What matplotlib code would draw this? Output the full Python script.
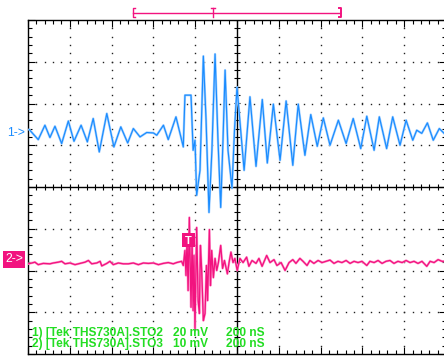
import matplotlib
matplotlib.use("Agg")
import matplotlib.pyplot as plt
import numpy as np

# scope settings
ns_per_div = 200
ch1_mv_per_div = 20
ch2_mv_per_div = 10
ch1_offset = 1.28    # divisions above centre
ch2_offset = -1.72

# channel 1 (ns, mV)
ch1_t = [6, 49, 81, 105, 129, 161, 193, 220, 254, 284, 312, 341, 377, 411, 444, 477,
         504, 536, 568, 600, 616, 648, 671, 708, 743,
         751, 780, 790, 799, 807, 823, 839, 852, 866, 880, 895, 909, 922, 933, 943,
         957, 976, 988, 1000,
         1034, 1062, 1091, 1121, 1145, 1174, 1206, 1235, 1267, 1293, 1325, 1353, 1384,
         1413, 1445, 1485, 1522, 1556, 1592, 1621, 1656, 1681, 1716, 1745, 1780, 1809,
         1841, 1860, 1884, 1911, 1939, 1968, 2000]
ch1_mv = [1.9, -2.9, 4.0, -1.9, 3.5, -4.8, 6.0, -3.7, 4.0, -4.0, 7.2, -8.8, 9.6, -6.4, 3.2, -4.5,
          2.4, -1.6, 0.5, 0.3, -0.8, 4.0, -2.9, 8.0, -6.4,
          18.4, 18.4, -8.0, -3.2, -29.6, -17.6, 37.1, 6.4, -37.8, -8.0, 38.1, -3.2, -35.4, -3.2, 30.4,
          -8.0, -26.2, 1.6, 22.2,
          -17.6, 17.6, -15.7, 16.3, -14.1, 14.1, -12.8, 15.6, -15.2, 14.1, -10.4, 9.1, -6.1,
          7.5, -5.6, 6.4, -4.8, 7.2, -7.2, 8.3, -8.0, 8.0, -7.2, 8.0, -5.6, 6.4,
          -3.2, 1.6, 0.1, 5.1, -3.2, 2.4, -0.8]

# channel 2 (ns, mV)
ch2_t = [1, 19, 33, 49, 73, 105, 121, 145, 161, 177, 201, 225, 249, 273, 289, 305, 329, 345,
         353, 377, 392, 408, 432, 456, 480, 504, 528, 552, 576, 600, 624, 647, 671, 695, 711,
         735, 743,
         751, 756, 761, 766, 772, 780, 785, 790, 794, 799, 807, 814, 820, 825, 831, 839, 847,
         854, 859, 868, 873, 879, 887, 895, 903, 911, 922, 931, 940, 954, 962, 971, 981, 990,
         1001,
         1014, 1029, 1046, 1057, 1072, 1091, 1105, 1120, 1142, 1158, 1177, 1191, 1211, 1230,
         1249, 1267, 1282, 1301, 1316, 1335, 1349, 1368, 1388, 1407, 1426, 1445, 1464, 1483,
         1502, 1522, 1541, 1560, 1579, 1598, 1621, 1636, 1656, 1675, 1694, 1713, 1732, 1751,
         1770, 1790, 1809, 1828, 1847, 1866, 1885, 1908, 1924, 1943, 1962, 1981, 2000]
ch2_mv = [-1.2, -1.0, -0.8, -1.4, -1.1, -1.2, -1.0, -0.8, -0.6, -1.2, -1.0, -1.4, -1.1, -0.8,
          -0.4, -1.2, -1.0, -0.6, -1.7, -1.1, -0.6, -1.4, -1.0, -1.2, -1.2, -1.0, -1.4, -1.0,
          -1.1, -1.0, -1.4, -1.1, -0.9, -1.2, -0.9, -0.6, -1.6,
          2.0, -4.0, 4.4, -7.6, 9.9, -11.6, 4.4, -12.4, 0.8, -16.7, 7.5, -10.0, -13.1, 3.2,
          -2.8, -14.8, -13.1, -1.6, -10.0, 7.0, -6.4, 2.0, -4.5, 0.1, -2.8, -0.9, 3.2, -2.3,
          -0.4, -3.6, -0.9, 1.6, -0.9, 0.1, -2.8,
          0.1, -0.9, 0.4, -1.8, -0.4, -1.1, 0.1, -1.8, 0.8, -0.9, -0.2, -1.6, -0.9, -2.8,
          -0.9, -0.2, -1.1, 0.1, -0.6, -1.6, -0.4, -1.1, -0.4, -0.9, -0.6, -0.3, -1.1, -0.6,
          -0.9, -0.4, -1.1, -0.6, -0.9, -0.6, -1.6, -0.6, -0.9, -0.4, -1.1, -0.6, -0.4, -1.1,
          -0.6, -0.9, -0.4, -0.9, -0.6, -1.1, -0.6, -1.8, -0.6, -0.9, -0.2, -0.6, -0.6]

blue_dark = "#1a8cff"
blue_light = "#a6d2ff"
pink_dark = "#f2137f"
pink_light = "#ff9ccf"
green = "#22dd22"

W, H = 444, 356
fig = plt.figure(figsize=(W / 100, H / 100), dpi=100)
fig.patch.set_facecolor("white")

# graticule axes: 10 x 8 divisions
ax = fig.add_axes([28 / W, 2 / H, 418 / W, 334 / H])
ax.set_xlim(0, 10 * ns_per_div)
ax.set_ylim(-4, 4)
for s in ax.spines.values():
    s.set_color("black")
    s.set_linewidth(1.0)

ax.set_xticks(np.arange(0, 10 * ns_per_div + 1, ns_per_div))
ax.set_xticks(np.arange(0, 10 * ns_per_div + 1, ns_per_div / 5), minor=True)
ax.set_yticks(np.arange(-4, 5, 1))
ax.set_yticks(np.arange(-4, 4.01, 0.2), minor=True)
ax.tick_params(which="both", direction="in", top=True, right=True, bottom=True, left=True,
               labelbottom=False, labelleft=False, color="black", width=0.8)
ax.tick_params(which="major", length=4.8)
ax.tick_params(which="minor", length=2.6)

# dotted grid
minor_t = np.arange(0, 10 * ns_per_div + 1, ns_per_div / 5)
minor_y = np.arange(-4, 4.01, 0.2)
for i in range(1, 10):
    if i == 5:
        continue
    ax.plot(np.full_like(minor_y, i * ns_per_div), minor_y, ls="none", marker="s",
            ms=1.0, mew=0, color="#222222", zorder=1)
for j in range(-3, 4):
    if j == 0:
        continue
    ax.plot(minor_t, np.full_like(minor_t, j, dtype=float), ls="none", marker="s",
            ms=1.0, mew=0, color="#222222", zorder=1)

# centre cross with ticks
ax.axhline(0, color="black", lw=1.0, zorder=1)
ax.axvline(5 * ns_per_div, color="black", lw=1.0, zorder=1)
ax.plot(minor_t, np.zeros_like(minor_t), ls="none", marker="|", ms=4.8, mew=0.8,
        color="black", zorder=1)
ax.plot(np.full_like(minor_y, 5 * ns_per_div), minor_y, ls="none", marker="_", ms=4.8,
        mew=0.8, color="black", zorder=1)

# traces
y1 = ch1_offset + np.array(ch1_mv) / ch1_mv_per_div
y2 = ch2_offset + np.array(ch2_mv) / ch2_mv_per_div
ax.plot(ch1_t, y1, color=blue_light, lw=1.7, zorder=3, solid_joinstyle="round")
ax.plot(ch1_t, y1, color=blue_dark, lw=0.85, zorder=4, solid_joinstyle="round")
ax.plot(ch2_t, y2, color=pink_light, lw=1.7, zorder=3, solid_joinstyle="round")
ax.plot(ch2_t, y2, color=pink_dark, lw=0.95, zorder=4, solid_joinstyle="round")

# overlay in pixel coordinates for markers and readouts
ov = fig.add_axes([0, 0, 1, 1])
ov.set_xlim(0, W)
ov.set_ylim(H, 0)
ov.axis("off")
ov.patch.set_alpha(0)

# trigger position bar
ov.plot([133, 340], [12.7, 12.7], color=pink_dark, lw=1.0)
ov.plot([134.5, 133, 133, 134.5], [7.5, 7.5, 17, 17], color=pink_dark, lw=1.0)
ov.plot([339, 340.7, 340.7, 339], [7.5, 7.5, 17, 17], color=pink_dark, lw=1.4)
ov.plot([212.7, 212.7], [8, 16.5], color=pink_dark, lw=1.0)
ov.plot([210.5, 215], [8, 8], color=pink_dark, lw=1.0)

# channel markers
ov.text(7, 133.5, "1->", color=blue_dark, fontsize=8.8, family="Liberation Sans",
        va="center", ha="left")
ov.add_patch(plt.Rectangle((3, 250.5), 22, 17, color=pink_dark, lw=0))
ov.text(5, 259, "2->", color="white", fontsize=8.8, family="Liberation Sans",
        va="center", ha="left")
ov.add_patch(plt.Rectangle((182, 233), 13, 14, color=pink_dark, lw=0, zorder=5))
ov.text(188.5, 240.5, "T", color="white", fontsize=8, family="Liberation Sans",
        weight="bold", va="center", ha="center", zorder=6)

# readouts
font = dict(color=green, fontsize=8.6, family="Liberation Sans", weight="bold", va="center")
ov.text(32, 333, "1) [Tek THS730A].STO2", **font)
ov.text(173, 333, "20 mV", **font)
ov.text(226, 333, "200 nS", **font)
ov.text(32, 344, "2) [Tek THS730A].STO3", **font)
ov.text(173, 344, "10 mV", **font)
ov.text(226, 344, "200 nS", **font)

fig.savefig("out.png", dpi=100)
